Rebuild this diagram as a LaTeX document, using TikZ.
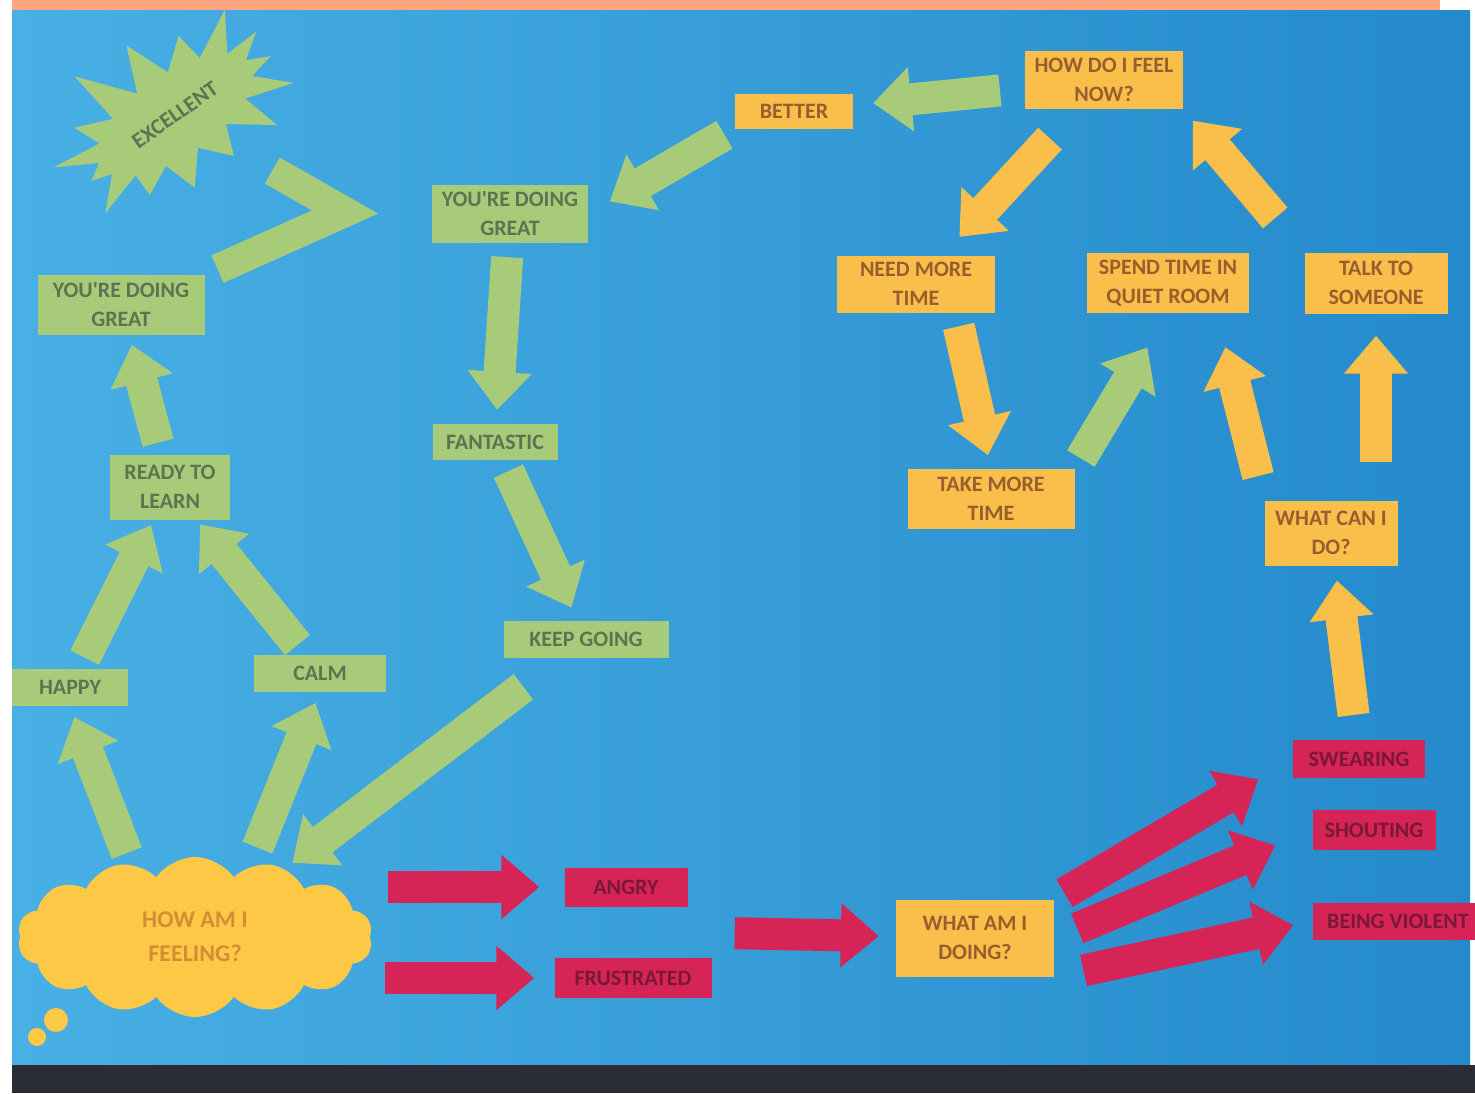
\documentclass[tikz,border=0pt]{standalone}
\usepackage{fontspec}
\usepackage{tikz}
\usetikzlibrary{arrows.meta,shapes.symbols,calc}
\newfontfamily\posterfont{Carlito}
\newcommand{\cardtext}{\posterfont\bfseries\fontsize{22}{29}\selectfont}
\newcommand{\cloudtext}{\posterfont\bfseries\fontsize{24}{34}\selectfont}

\definecolor{gpaper}{RGB}{168,203,122}
\definecolor{gtext}{RGB}{92,116,80}
\definecolor{opaper}{RGB}{250,190,75}
\definecolor{otext}{RGB}{150,95,45}
\definecolor{rpaper}{RGB}{214,36,86}
\definecolor{rtext}{RGB}{122,24,55}
\definecolor{cloudcol}{RGB}{252,200,70}
\definecolor{cloudink}{RGB}{214,140,52}
\definecolor{posterleft}{RGB}{72,176,228}
\definecolor{posterright}{RGB}{36,138,204}
\definecolor{tabletop}{RGB}{42,44,54}

\tikzset{
  card/.style={rectangle, inner sep=2pt, align=center, font=\cardtext},
  greencard/.style={card, fill=gpaper, text=gtext},
  orangecard/.style={card, fill=opaper, text=otext},
  redcard/.style={card, fill=rpaper, text=rtext},
  paperarrow/.style={line width=32pt, -{Triangle[width=62pt,length=38pt]}},
  garrow/.style={paperarrow, draw=gpaper},
  oarrow/.style={paperarrow, draw=opaper},
  rarrow/.style={paperarrow, draw=rpaper},
}

\begin{document}
\begin{tikzpicture}[x=1pt,y=-1pt]
  \clip (0,0) rectangle (1475,1093);
  % poster
  \fill[white] (0,0) rectangle (1475,1093);
  \fill[orange!60!red!50] (12,0) rectangle (1440,10);
  \shade[left color=posterleft, right color=posterright] (12,10) rectangle (1470,1065);
  \fill[tabletop] (12,1065) rectangle (1475,1093);

  % green side
  \node[starburst, starburst points=15, starburst point height=60pt, random starburst=11,
        fill=gpaper, text=gtext, minimum width=300pt, minimum height=200pt,
        rotate=35, font=\cardtext] (excellent) at (175,115) {EXCELLENT};
  \node[greencard, minimum width=167pt, minimum height=60pt] (ydgL) at (121,305) {YOU'RE DOING\\GREAT};
  \node[greencard, minimum width=120pt, minimum height=65pt] (ready) at (170,487) {READY TO\\LEARN};
  \node[greencard, minimum width=116pt, minimum height=37pt] (happy) at (70,687) {HAPPY};
  \node[greencard, minimum width=132pt, minimum height=37pt] (calm) at (320,673) {CALM};
  \node[greencard, minimum width=156pt, minimum height=58pt] (ydgM) at (510,214) {YOU'RE DOING\\GREAT};
  \node[greencard, minimum width=125pt, minimum height=36pt] (fantastic) at (495,442) {FANTASTIC};
  \node[greencard, minimum width=165pt, minimum height=37pt] (keep) at (586,639) {KEEP GOING};

  % orange side
  \node[orangecard, minimum width=118pt, minimum height=35pt] (better) at (794,111) {BETTER};
  \node[orangecard, minimum width=158pt, minimum height=58pt] (howfeel) at (1104,80) {HOW DO I FEEL\\NOW?};
  \node[orangecard, minimum width=158pt, minimum height=57pt] (needtime) at (916,284) {NEED MORE\\TIME};
  \node[orangecard, minimum width=162pt, minimum height=60pt] (spend) at (1168,283) {SPEND TIME IN\\QUIET ROOM};
  \node[orangecard, minimum width=143pt, minimum height=61pt] (talk) at (1376,283) {TALK TO\\SOMEONE};
  \node[orangecard, minimum width=167pt, minimum height=60pt] (takemore) at (991,499) {TAKE MORE\\TIME};
  \node[orangecard, minimum width=133pt, minimum height=65pt] (whatcan) at (1331,533) {WHAT CAN I\\DO?};
  \node[orangecard, minimum width=158pt, minimum height=77pt] (whatdo) at (975,938) {WHAT AM I\\DOING?};

  % red side
  \node[redcard, minimum width=123pt, minimum height=39pt] (angry) at (626,887) {ANGRY};
  \node[redcard, minimum width=157pt, minimum height=40pt] (frustrated) at (633,978) {FRUSTRATED};
  \node[redcard, minimum width=132pt, minimum height=38pt] (swearing) at (1359,759) {SWEARING};
  \node[redcard, minimum width=123pt, minimum height=40pt] (shouting) at (1374,830) {SHOUTING};
  \node[redcard, minimum width=170pt, minimum height=37pt] (violent) at (1398,921) {BEING VIOLENT};

  % thought cloud
  \node[cloud, cloud puffs=14, cloud puff arc=110, aspect=2.3, fill=cloudcol, text=cloudink,
        minimum width=355pt, minimum height=160pt, align=center, font=\cloudtext] (cloud) at (195,937) {HOW AM I\\FEELING?};
  \node[circle, fill=cloudcol, minimum size=24pt] (bubbleA) at (56,1020) {};
  \node[circle, fill=cloudcol, minimum size=18pt] (bubbleB) at (37,1037) {};

  %cloud>happy
  \draw[garrow, shorten <=4pt, shorten >=12pt] (cloud.north -| happy.south east) -- (happy.south);
  %cloud>calm
  \draw[garrow, shorten <=10pt, shorten >=12pt] (cloud.north -| calm.south west) -- (calm.south);
  %happy>ready
  \draw[garrow, shorten <=12pt, shorten >=6pt] (happy) -- (ready);
  %calm>ready
  \draw[garrow, shorten <=12pt, shorten >=6pt] (calm) -- (ready);
  %ready>ydgL
  \draw[garrow, shorten <=12pt, shorten >=10pt] (ready) -- (ydgL);
  %ydgL>excellent
  \coordinate (bend) at (345,212);
  \draw[draw=gpaper, line width=30pt, line join=miter, shorten <=14pt, shorten >=112pt]
    (ydgL.north east) -- (bend) -- (excellent.center);

  %better>ydgM
  \draw[garrow, shorten <=12pt, shorten >=25pt] (better.south west) -- (ydgM.east);
  %ydgM>fantastic
  \draw[garrow, shorten <=14pt, shorten >=14pt] (ydgM) -- (fantastic);
  %fantastic>keep
  \draw[garrow, shorten <=12pt, shorten >=14pt] (fantastic) -- (keep);
  %keep>cloud
  \draw[garrow, shorten <=48pt, shorten >=10pt] (keep) -- (cloud);

  %howfeel>better
  \draw[garrow, shorten <=25pt, shorten >=20pt] (howfeel) -- (better);
  %howfeel>needtime
  \draw[oarrow, shorten <=40pt, shorten >=25pt] (howfeel) -- (needtime);
  %talk>howfeel
  \draw[oarrow, shorten <=45pt, shorten >=15pt] (talk.north west) -- (howfeel.south east);
  %needtime>takemore
  \draw[oarrow, shorten <=14pt, shorten >=14pt] ($(needtime.south)!.5!(needtime.south east)$) -- (takemore.north);
  %takemore>spend
  \draw[garrow, shorten <=12pt, shorten >=40pt] (takemore.north east) -- (spend.south);
  %whatcan>spend
  \draw[oarrow, shorten <=25pt, shorten >=35pt] (whatcan.north west) -- ($(spend.south)!.6!(spend.south east)$);
  %whatcan>talk
  \draw[oarrow, shorten <=38pt, shorten >=22pt] (whatcan.north -| talk) -- (talk.south);
  %swearing>whatcan
  \draw[oarrow, shorten <=25pt, shorten >=15pt] (swearing) -- (whatcan);

  %cloud>angry
  \draw[rarrow, shorten <=18pt, shorten >=25pt] (angry -| cloud.east) -- (angry);
  %cloud>frustrated
  \draw[rarrow, shorten <=15pt, shorten >=20pt] (frustrated -| cloud.east) -- (frustrated);
  %angry,frustrated>whatdo
  \draw[rarrow, shorten <=35pt, shorten >=17pt] ($(angry.east)!.5!(frustrated.east)$) -- (whatdo);
  %whatdo>swearing
  \draw[rarrow, shorten <=12pt, shorten >=40pt] (whatdo.north east) -- (swearing.west);
  %whatdo>shouting
  \draw[rarrow, shorten <=25pt, shorten >=40pt] (whatdo.east) -- (shouting.west);
  %whatdo>violent
  \draw[rarrow, shorten <=30pt, shorten >=20pt] (whatdo.south east) -- (violent.west);
\end{tikzpicture}
\end{document}
